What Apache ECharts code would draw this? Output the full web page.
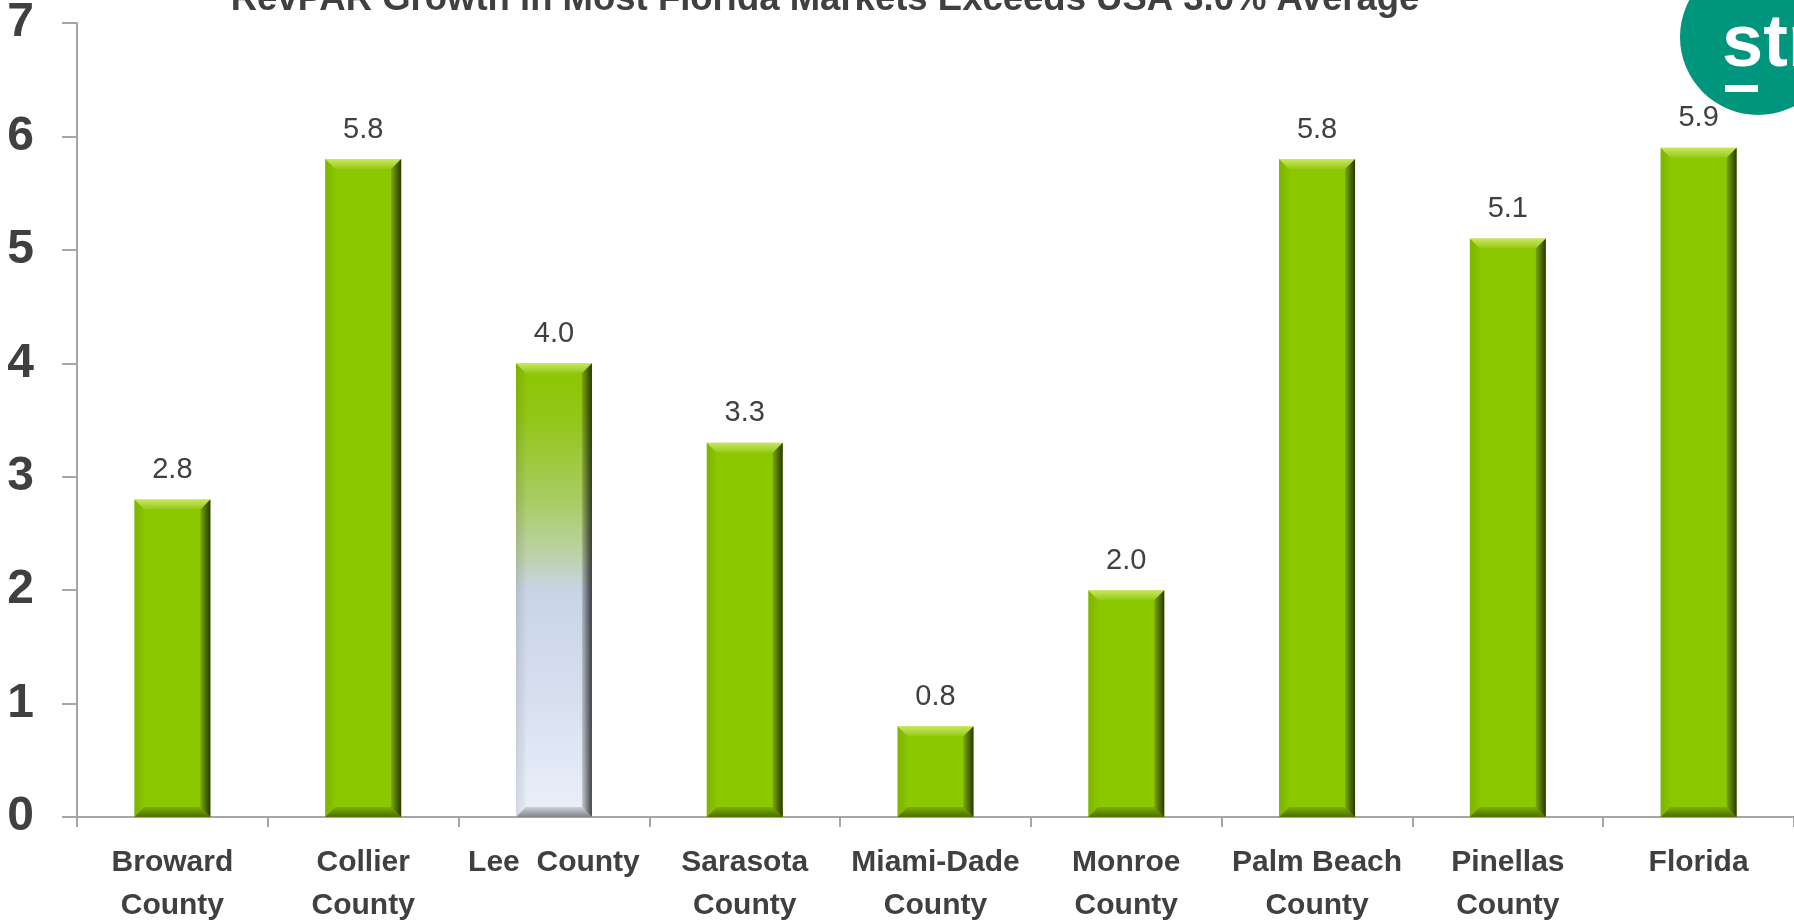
<!DOCTYPE html>
<html>
<head>
<meta charset="utf-8">
<title>RevPAR Growth in Most Florida Markets</title>
<script src="https://cdn.jsdelivr.net/npm/echarts@6/dist/echarts.min.js"></script>
<style>
  html, body { margin: 0; padding: 0; background: #ffffff; }
  #chart { width: 1794px; height: 921px; }
</style>
</head>
<body>
<div id="chart"></div>
<script>
// Market names (x axis) and RevPAR growth, percent
const markets = [
  'Broward\nCounty', 'Collier\nCounty', 'Lee  County', 'Sarasota\nCounty',
  'Miami-Dade\nCounty', 'Monroe\nCounty', 'Palm Beach\nCounty', 'Pinellas\nCounty', 'Florida'
];
const revparGrowth = [2.8, 5.8, 4.0, 3.3, 0.8, 2.0, 5.8, 5.1, 5.9];
const yTicks = [0, 1, 2, 3, 4, 5, 6, 7];
const highlightMarket = 'Lee  County';
const chartTitle = 'RevPAR Growth in Most Florida Markets Exceeds USA 3.0% Average';

const FONT = '"Liberation Sans", Arial, sans-serif';
const TEXT = '#404040';
const GREEN = '#8cc800';
const BAR_W = 76;
const BEVEL = 10;

const leeFace = {
  type: 'linear', x: 0, y: 0, x2: 0, y2: 1,
  colorStops: [
    { offset: 0, color: '#8cc600' },
    { offset: 0.12, color: '#92c618' },
    { offset: 0.3, color: '#a8cc62' },
    { offset: 0.42, color: '#bcd2a6' },
    { offset: 0.5, color: '#c8d4e6' },
    { offset: 0.75, color: '#d8e0f0' },
    { offset: 1, color: '#ebf0fa' }
  ]
};

function grad(x2, y2, c0, c1) {
  return { type: 'linear', x: 0, y: 0, x2: x2, y2: y2,
    colorStops: [{ offset: 0, color: c0 }, { offset: 1, color: c1 }] };
}

// Bevelled edges drawn over each bar
function renderBevel(params, api) {
  const idx = api.value(0);
  const v = api.value(1);
  const top = api.coord([idx, v]);
  const base = api.coord([idx, 0]);
  const x0 = top[0] - BAR_W / 2, x1 = top[0] + BAR_W / 2;
  const y0 = top[1], y1 = base[1];
  const b = Math.min(BEVEL, (y1 - y0) / 2);
  return {
    type: 'group',
    silent: true,
    children: [
      { type: 'polygon', shape: { points: [[x0, y0], [x0 + b, y0 + b], [x0 + b, y1 - b], [x0, y1]] },
        style: { fill: grad(1, 0, 'rgba(0,0,0,0.10)', 'rgba(0,0,0,0.02)') } },
      { type: 'polygon', shape: { points: [[x0, y0], [x1, y0], [x1 - b, y0 + b], [x0 + b, y0 + b]] },
        style: { fill: grad(0, 1, 'rgba(255,255,160,0.55)', 'rgba(255,255,255,0.05)') } },
      { type: 'polygon', shape: { points: [[x1, y0], [x1, y1], [x1 - b, y1 - b], [x1 - b, y0 + b]] },
        style: { fill: grad(1, 0, 'rgba(0,0,0,0.15)', 'rgba(0,0,0,0.72)') } },
      { type: 'polygon', shape: { points: [[x0, y1], [x1, y1], [x1 - b, y1 - b], [x0 + b, y1 - b]] },
        style: { fill: grad(0, 1, 'rgba(0,0,0,0.12)', 'rgba(0,0,0,0.45)') } }
    ]
  };
}

const chart = echarts.init(document.getElementById('chart'), null, { renderer: 'canvas' });

chart.setOption({
  backgroundColor: '#ffffff',
  animation: false,
  grid: { left: 77, right: 0, top: 23, bottom: 104, containLabel: false, outerBoundsMode: 'none' },
  xAxis: {
    type: 'category',
    data: markets,
    boundaryGap: true,
    axisLine: { show: true, lineStyle: { color: '#a6a6a6', width: 2 } },
    axisTick: { show: true, length: 10, alignWithLabel: false, lineStyle: { color: '#a6a6a6', width: 2 } },
    axisLabel: {
      interval: 0, margin: 24,
      color: TEXT, fontFamily: FONT, fontWeight: 'bold', fontSize: 30, lineHeight: 43
    },
    splitLine: { show: false }
  },
  yAxis: {
    type: 'value',
    min: yTicks[0], max: yTicks[yTicks.length - 1], interval: 1,
    axisLine: { show: true, lineStyle: { color: '#a6a6a6', width: 2 } },
    axisTick: { show: true, length: 15, lineStyle: { color: '#a6a6a6', width: 2 } },
    axisLabel: {
      margin: 43, color: TEXT, fontFamily: FONT, fontWeight: 'bold', fontSize: 48,
      formatter: v => String(v)
    },
    splitLine: { show: false }
  },
  series: [
    {
      type: 'bar',
      barWidth: BAR_W,
      data: revparGrowth.map((v, i) => ({
        value: v,
        itemStyle: { color: markets[i] === highlightMarket ? leeFace : GREEN }
      })),
      label: {
        show: true, position: 'top', distance: 15,
        color: TEXT, fontFamily: FONT, fontSize: 29,
        formatter: p => p.value.toFixed(1)
      },
      z: 2
    },
    {
      type: 'custom',
      renderItem: renderBevel,
      data: revparGrowth.map((v, i) => [i, v]),
      encode: { x: 0, y: 1 },
      z: 3
    }
  ],
  graphic: [
    {
      type: 'text', x: 825, y: 0, z: 10,
      style: {
        text: chartTitle, fill: TEXT, font: 'bold 36.5px ' + FONT,
        textAlign: 'center', textVerticalAlign: 'middle'
      }
    },
    {
      type: 'circle', z: 10,
      shape: { cx: 1758, cy: 37, r: 78 },
      style: { fill: '#00967d' }
    },
    {
      type: 'text', x: 1722, y: 83, z: 11,
      style: {
        text: 'str', fill: '#ffffff', font: 'bold 74px ' + FONT,
        textAlign: 'left', textVerticalAlign: 'bottom'
      }
    },
    {
      type: 'rect', z: 11,
      shape: { x: 1725, y: 85, width: 33, height: 7 },
      style: { fill: '#ffffff' }
    }
  ]
});
</script>
</body>
</html>
